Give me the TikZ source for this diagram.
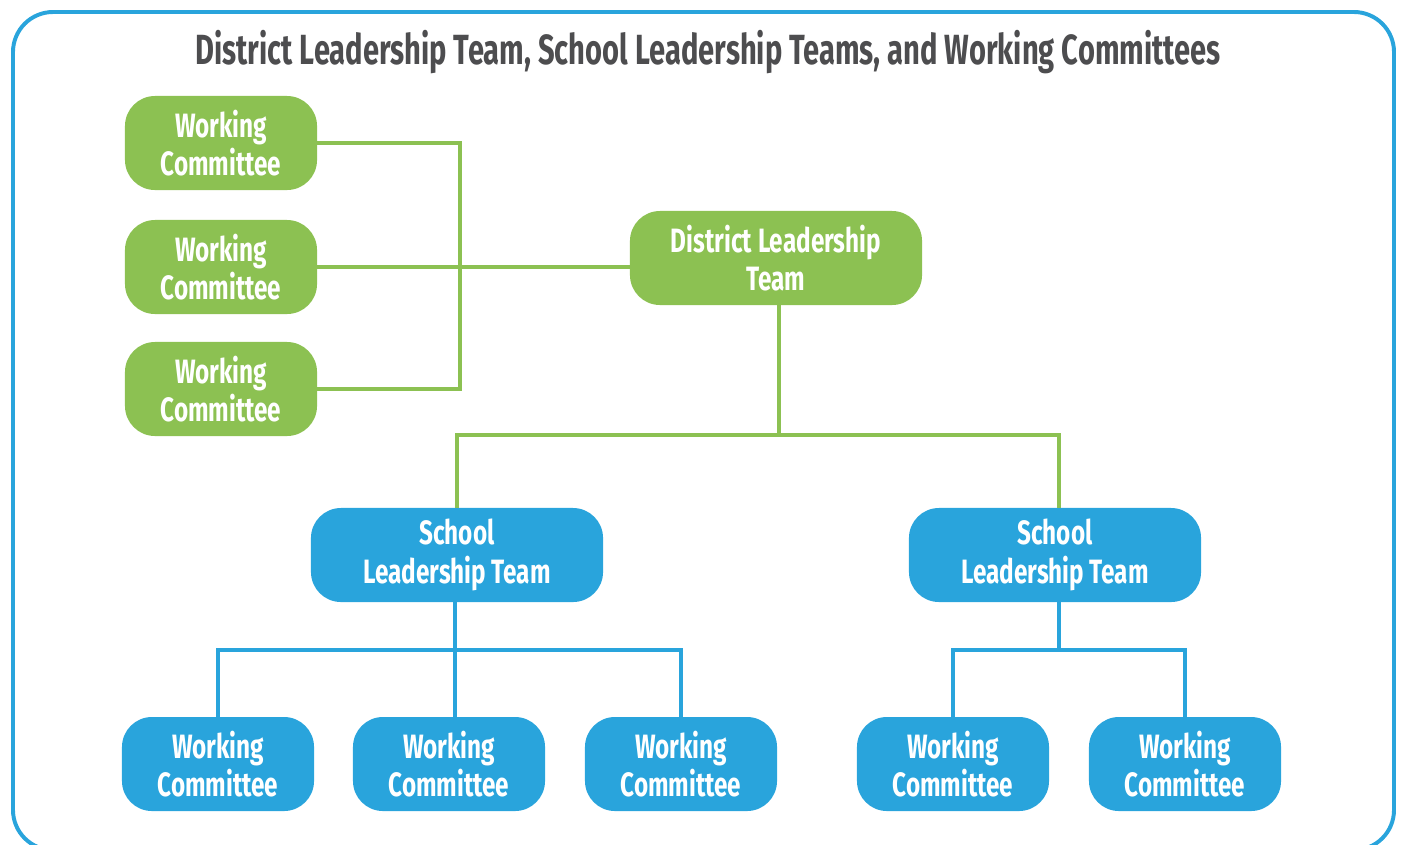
\documentclass[tikz,border=0pt]{standalone}
\usepackage{fontspec}
\setmainfont[FakeStretch=0.72]{Fira Sans}
\newfontfamily\titlefont[FakeStretch=0.69]{Fira Sans}
\definecolor{leafgreen}{HTML}{8CC152}
\definecolor{skyblue}{HTML}{29A4DC}
\definecolor{titlegray}{HTML}{4D4D4F}

\tikzset{
  team/.style={rounded corners=0.75cm,inner sep=0pt,align=center,text=white,
    minimum height=2.35cm,font=\bfseries\fontsize{24}{27.5}\selectfont},
  committee/.style={team,minimum width=4.8cm},
  leader/.style={team,minimum width=7.3cm},
  gline/.style={draw=leafgreen,line width=2.8pt},
  bline/.style={draw=skyblue,line width=2.8pt}
}

\begin{document}
\begin{tikzpicture}[x=0.025cm,y=-0.025cm]
  \useasboundingbox (0,0) rectangle (1402,844);
  \draw [skyblue,line width=2.8pt,rounded corners=1cm] (13,12) rectangle (1394,850);

  \node [text=titlegray,font=\titlefont\bfseries\fontsize{30}{36}\selectfont] (title) at (708,52)
    {District Leadership Team, School Leadership Teams, and Working Committees};

  % district level
  \node [committee,fill=leafgreen] (gwc1) at (221,143) {Working\\Committee};
  \node [committee,fill=leafgreen] (gwc2) at (221,267) {Working\\Committee};
  \node [committee,fill=leafgreen] (gwc3) at (221,389) {Working\\Committee};
  \node [leader,fill=leafgreen] (dlt) at (776,258) {District Leadership\\Team};

  % school level
  \node [leader,fill=skyblue] (slt1) at (457,555) {School\\Leadership Team};
  \node [leader,fill=skyblue] (slt2) at (1055,555) {School\\Leadership Team};

  \node [committee,fill=skyblue] (bwc1) at (218,764) {Working\\Committee};
  \node [committee,fill=skyblue] (bwc2) at (449,764) {Working\\Committee};
  \node [committee,fill=skyblue] (bwc3) at (681,764) {Working\\Committee};
  \node [committee,fill=skyblue] (bwc4) at (953,764) {Working\\Committee};
  \node [committee,fill=skyblue] (bwc5) at (1185,764) {Working\\Committee};

  \coordinate (gtop) at (460,143);
  \coordinate (gbot) at (460,389);
  \coordinate (dsplit) at (779,435);
  \coordinate (s1bus) at (455,650);
  \coordinate (s2bus) at (1059,650);

  \draw [gline] (gwc1.east) -- (gtop) -- (gbot) -- (gwc3.east);
  \draw [gline] (gwc2.east) -- (gwc2.east -| dlt.west);
  \draw [gline] (dlt.south -| dsplit) -- (dsplit);
  \draw [gline] (slt1.north) |- (dsplit) -| (slt2.north -| s2bus);

  \draw [bline] (slt1.south -| s1bus) -- (s1bus);
  \draw [bline] (bwc1.north) |- (s1bus) -| (bwc3.north);
  \draw [bline] (s1bus) -- (s1bus |- bwc2.north);
  \draw [bline] (slt2.south -| s2bus) -- (s2bus);
  \draw [bline] (bwc4.north) |- (s2bus) -| (bwc5.north);
\end{tikzpicture}
\end{document}
